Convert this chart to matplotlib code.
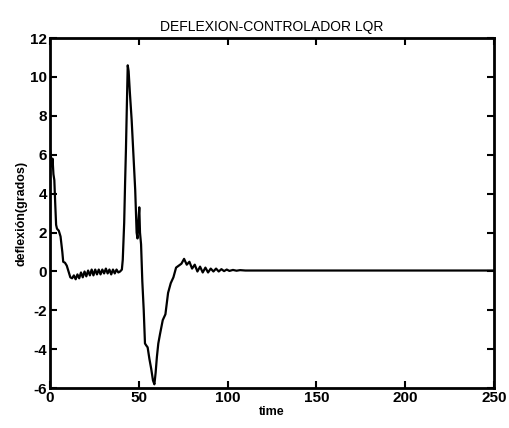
import matplotlib
matplotlib.use("Agg")
import matplotlib.pyplot as plt

plt.rcParams['font.family'] = ['Liberation Sans', 'DejaVu Sans']
plt.rcParams['axes.unicode_minus'] = False

# tiempo y deflexión
tiempo = [0, 0.5, 1, 1.5, 2, 2.5, 3, 3.5, 4, 5, 6, 7, 7.5, 8.5, 9.5, 10.5, 11.5,
          12.5, 13.5, 14.5, 15.5, 16.5, 17.5, 18.5, 19.5, 20.5, 21.5, 22.5, 23.5,
          24.5, 25.5, 26.5, 27.5, 28.5, 29.5, 30.5, 31.5, 32.5, 33.5, 34.5, 35.5,
          36.5, 37.5, 38.5, 39.5, 40.5, 41.0, 41.8, 42.3, 42.8, 43.3, 43.8, 44.3,
          45.0, 46.0, 47.0, 48.0, 48.8, 49.3, 49.8, 50.3, 50.7, 51.3, 52.0, 52.8,
          53.5, 54.2, 55.0, 56.0, 57.0, 58.0, 58.8, 59.5, 60.2, 61.0, 62.0, 63.5,
          65.0, 66.5, 68.0, 69.5, 71.0, 72.5, 74.0, 75.5, 77.0, 78.5, 80, 81.5,
          83, 84.5, 86, 87.5, 89, 90.5, 92, 93.5, 95, 96.5, 98, 99.5, 101, 103,
          105, 107, 110, 120, 150, 200, 250]
deflexion = [6.3, 6.0, 5.4, 5.8, 5.0, 4.7, 3.5, 2.4, 2.2, 2.1, 1.8, 1.0, 0.5,
             0.45, 0.3, 0.0, -0.3, -0.35, -0.2, -0.4, -0.15, -0.35, -0.05, -0.3,
             0.0, -0.25, 0.05, -0.2, 0.1, -0.2, 0.1, -0.15, 0.1, -0.15, 0.1, -0.1,
             0.15, -0.1, 0.1, -0.15, 0.1, -0.1, 0.1, -0.05, 0.0, 0.1, 0.6, 2.5,
             4.5, 6.3, 8.5, 10.6, 10.3, 9.2, 7.8, 6.0, 4.2, 2.0, 1.7, 2.6, 3.3,
             2.0, 1.4, -0.5, -2.0, -3.7, -3.8, -3.9, -4.5, -5.0, -5.6, -5.8, -5.2,
             -4.4, -3.7, -3.2, -2.5, -2.2, -1.1, -0.6, -0.3, 0.2, 0.3, 0.4, 0.65,
             0.35, 0.5, 0.15, 0.35, 0.0, 0.25, -0.05, 0.2, -0.05, 0.15, 0.0, 0.15,
             0.0, 0.12, 0.02, 0.1, 0.03, 0.08, 0.04, 0.07, 0.05, 0.05, 0.05, 0.05, 0.05]

fig = plt.figure(figsize=(5.09, 4.28), dpi=100)
ax = fig.add_axes([0.098, 0.093, 0.873, 0.818])
ax.plot(tiempo, deflexion, color='black', linewidth=1.6)

ax.set_xlim(0, 250)
ax.set_ylim(-6, 12)
ax.set_xticks(range(0, 251, 50))
ax.set_yticks(range(-6, 13, 2))
ax.tick_params(direction='in', top=True, right=True, length=5, width=1.5,
               labelsize=11, pad=2)
for lbl in ax.get_xticklabels() + ax.get_yticklabels():
    lbl.set_fontweight('bold')
for s in ax.spines.values():
    s.set_linewidth(2)

ax.set_title("DEFLEXION-CONTROLADOR LQR", fontsize=10, pad=5)
ax.set_xlabel("time", fontsize=9, fontweight='bold', labelpad=1)
ax.set_ylabel("deflexión(grados)", fontsize=9, fontweight='bold', labelpad=2)

fig.savefig("out.png", dpi=100)
